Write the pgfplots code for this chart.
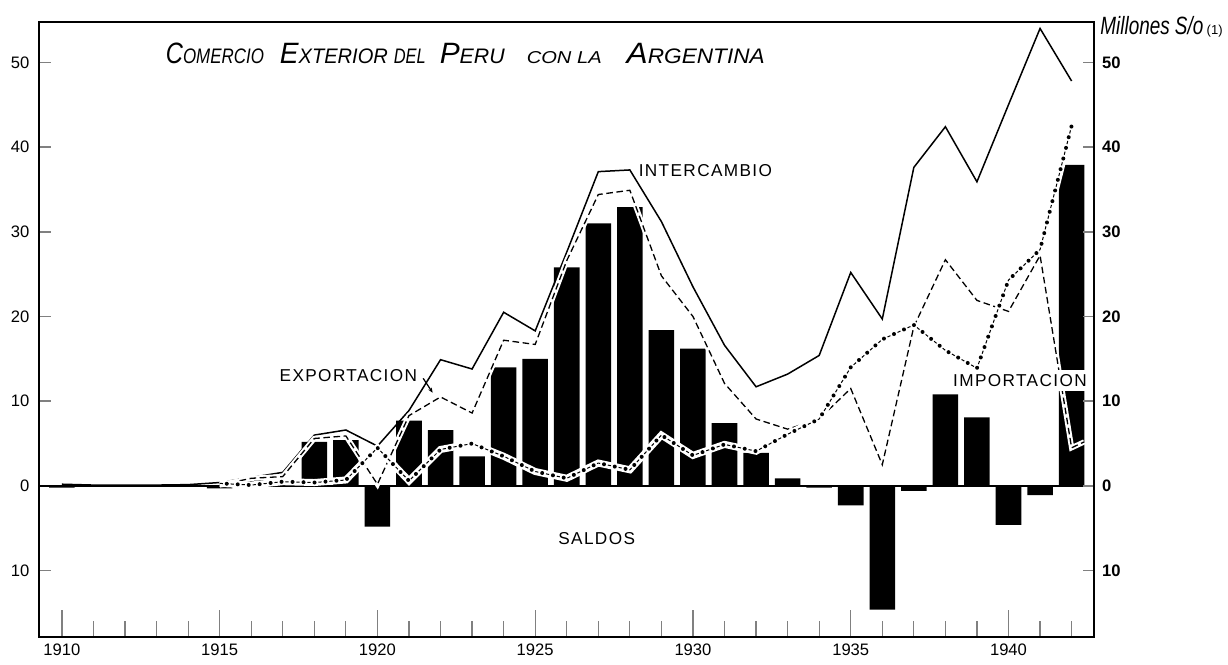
\documentclass[border=0pt]{standalone}
\usepackage{fontspec}
\setmainfont{Liberation Sans}
\newfontfamily\lblfont[LetterSpace=8]{Liberation Sans}
\usepackage{pgfplots}
\usepackage{pgfplotstable}
\pgfplotsset{compat=1.18}
\usetikzlibrary{arrows.meta}

\pgfplotstableread{
year S
1910 -0.2
1914 0.15
1915 -0.3
1916 0.9
1917 0.6
1918 5.2
1919 5.4
1920 -4.8
1921 7.7
1922 6.6
1923 3.5
1924 14.0
1925 15.0
1926 25.8
1927 31.0
1928 32.9
1929 18.4
1930 16.2
1931 7.4
1932 3.9
1933 0.9
1934 -0.2
1935 -2.3
1936 -14.6
1937 -0.6
1938 10.8
1939 8.1
1940 -4.6
1941 -1.1
1942 37.9
}\saldos

\pgfplotstableread{
year T
1910 0.2
1911 0.1
1912 0.1
1913 0.1
1914 0.15
1915 0.4
1916 1.0
1917 1.6
1918 6.0
1919 6.6
1920 4.7
1921 8.9
1922 14.9
1923 13.8
1924 20.5
1925 18.3
1926 27.6
1927 37.1
1928 37.3
1929 31.2
1930 23.5
1931 16.6
1932 11.7
1933 13.2
1934 15.4
1935 25.2
1936 19.7
1937 37.6
1938 42.4
1939 35.9
1940 45.0
1941 54.0
1942 47.8
}\inter

\pgfplotstableread{
year E
1915 0.1
1916 0.9
1917 1.1
1918 5.6
1919 5.9
1920 0.2
1921 8.3
1922 10.5
1923 8.6
1924 17.2
1925 16.7
1926 26.6
1927 34.4
1928 34.9
1929 24.8
1930 20.0
1931 12.1
1932 7.9
1933 6.7
1934 7.9
1935 11.5
1936 2.5
1937 18.8
1938 26.7
1939 21.9
1940 20.6
1941 27.2
1942 4.5
1942.4 5.2
}\expo

\pgfplotstableread{
year I
1915 0.3
1916 0.1
1917 0.5
1918 0.4
1919 0.7
1920 4.5
1921 0.6
1922 4.3
1923 5.0
1924 3.5
1925 1.7
1926 0.9
1927 2.7
1928 1.9
1929 6.0
1930 3.6
1931 4.9
1932 4.1
1933 6.1
1934 7.9
1935 14.0
1936 17.3
1937 19.0
1938 16.0
1939 13.9
1940 24.3
1941 27.9
1942 42.5
}\impo

\newcommand\tB[1]{{\fontsize{14.7bp}{15bp}\selectfont #1}}
\newcommand\tS[1]{{\fontsize{10.5bp}{11bp}\selectfont #1}}
\newcommand\tX[1]{{\fontsize{8.6bp}{9bp}\selectfont #1}}

\begin{document}
\begin{tikzpicture}
\begin{axis}[
  name=main,
  scale only axis, width=527.25bp, height=307.5bp,
  xmin=1909.29, xmax=1942.71, ymin=-17.8, ymax=54.8,
  axis line style={line width=1bp},
  clip=false,
  xtick={1910,1915,1920,1925,1930,1935,1940},
  xticklabels={1910,1915,1920,1925,1930,1935,1940},
  minor xtick={1910,1911,...,1942},
  xtick pos=left, ytick pos=left,
  tick align=inside,
  major tick length=13.3bp, minor tick length=8bp,
  xtick style={line width=0.6bp},
  minor tick style={line width=0.6bp},
  ytick={-10,0,10,20,30,40,50},
  yticklabels={10,0,10,20,30,40,50},
  ytick style={/pgfplots/major tick length=6bp, line width=0.8bp},
  tick label style={font=\fontsize{8.3bp}{10bp}\selectfont},
  yticklabel style={xshift=-1.5bp},
]
\coordinate (SW) at (rel axis cs:0,0);
\coordinate (NE) at (rel axis cs:1,1);

\addplot[ybar, bar width=0.81, fill=black, draw=none] table[x=year,y=S]{\saldos};
\draw[line width=0.6bp] (axis cs:1909.29,0) -- (axis cs:1942.71,0);

\addplot[black, line width=0.75bp] table[x=year,y=T]{\inter};

\addplot[black, line width=0.65bp, dash pattern=on 3.3bp off 1.8bp,
  preaction={draw=white, solid, line width=2.6bp}] table[x=year,y=E]{\expo};

\addplot[black, line width=0.5bp, dash pattern=on 1.6bp off 3.9bp,
  preaction={draw=white, solid, line width=3.5bp},
  postaction={draw=black, line width=2bp, line cap=round, dash pattern=on 0pt off 5.5bp, dash phase=1.95bp}]
  table[x=year,y=I]{\impo};

% title
\node[anchor=base west, inner sep=0] at (axis cs:1913.285,49.92) {\resizebox{49bp}{\height}{\itshape\tB{C}\tS{OMERCIO}}};
\node[anchor=base west, inner sep=0] at (axis cs:1916.896,49.92) {\resizebox{54bp}{\height}{\itshape\tB{E}\tS{XTERIOR}}};
\node[anchor=base west, inner sep=0] at (axis cs:1920.507,49.92) {\resizebox{16bp}{\height}{\itshape\tS{DEL}}};
\node[anchor=base west, inner sep=0] at (axis cs:1921.964,49.92) {\resizebox{32.5bp}{\height}{\itshape\tB{P}\tS{ERU}}};
\node[anchor=base west, inner sep=0] at (axis cs:1924.720,49.92) {\resizebox{37.5bp}{\height}{\itshape\tX{CON LA}}};
\node[anchor=base west, inner sep=0] at (axis cs:1927.888,49.92) {\resizebox{69bp}{\height}{\itshape\tB{A}\tS{RGENTINA}}};

% unit
\node[anchor=base west, inner sep=0] at (axis cs:1942.90,53.23) {\resizebox{51.5bp}{\height}{\itshape\fontsize{12.5bp}{13bp}\selectfont Millones S/o}\,{\fontsize{6.5bp}{7bp}\selectfont(1)}};

% labels
\node[anchor=west, inner sep=0] at (axis cs:1928.27,37.18) {\lblfont\fontsize{8.6bp}{10bp}\selectfont INTERCAMBIO};
\node[anchor=west, inner sep=0] at (axis cs:1916.89,12.98) {\lblfont\fontsize{8.6bp}{10bp}\selectfont EXPORTACION};
\node[anchor=west, inner sep=0] at (axis cs:1925.72,-6.17) {\lblfont\fontsize{8.6bp}{10bp}\selectfont SALDOS};
\node[anchor=west, fill=white, inner xsep=1bp, inner ysep=2.2bp] at (axis cs:1938.17,12.4) {\lblfont\fontsize{8.6bp}{10bp}\selectfont IMPORTACION};
\draw[line width=0.6bp, -{Stealth[length=2.5bp,width=2bp]}] (axis cs:1921.45,12.7) -- (axis cs:1921.75,11.0);
\end{axis}

\begin{axis}[
  scale only axis, width=527.25bp, height=307.5bp,
  xmin=1909.29, xmax=1942.71, ymin=-17.8, ymax=54.8,
  axis x line=none, axis y line*=right,
  axis line style={line width=1bp},
  tick align=inside,
  major tick length=5.5bp,
  ytick={-10,0,10,20,30,40,50},
  yticklabels={10,0,10,20,30,40,50},
  ytick style={line width=0.8bp},
  yticklabel style={font=\bfseries\fontsize{8.3bp}{10bp}\selectfont, xshift=0.5bp},
]
\end{axis}
\pgfresetboundingbox
\path[use as bounding box] ([xshift=-19.75bp,yshift=-14.15bp]SW) rectangle ([xshift=67bp,yshift=10.85bp]NE);
\end{tikzpicture}
\end{document}
